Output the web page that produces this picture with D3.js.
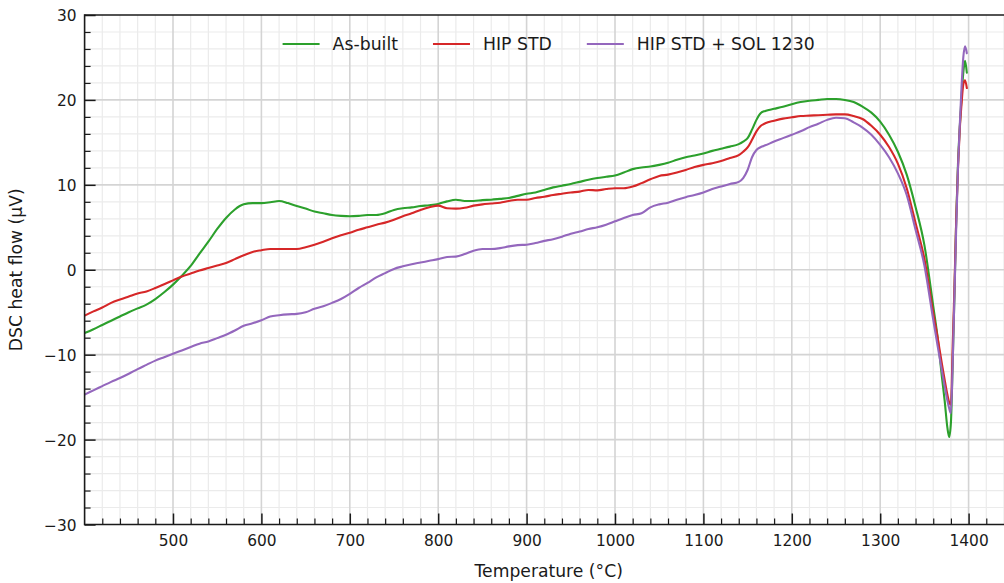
<!DOCTYPE html>
<html>
<head>
<meta charset="utf-8">
<script src="https://cdn.jsdelivr.net/npm/d3@7/dist/d3.min.js"></script>
<style>
  html, body { margin: 0; padding: 0; background: #fff; }
  svg { display: block; font-family: "DejaVu Sans", sans-serif; }
</style>
</head>
<body>
<svg id="chart" width="1004" height="583"></svg>
<script>
// DSC traces: temperature (°C) against heat flow (µV)
const temps = [
  400, 410, 420, 430, 440, 450, 460, 470, 480, 490,
  500, 510, 520, 530, 540, 550, 560, 570, 580, 590,
  600, 610, 620, 630, 640, 650, 660, 670, 680, 690,
  700, 710, 720, 730, 740, 750, 760, 770, 780, 790,
  800, 810, 820, 830, 840, 850, 860, 870, 880, 890,
  900, 910, 920, 930, 940, 950, 960, 970, 980, 990,
  1000, 1010, 1020, 1030, 1040, 1050, 1060, 1070, 1080, 1090,
  1100, 1110, 1120, 1130, 1140, 1145, 1150, 1155, 1160, 1165,
  1170, 1180, 1190, 1200, 1210, 1220, 1230, 1240, 1250, 1260,
  1270, 1280, 1290, 1300, 1310, 1320, 1330, 1340, 1350, 1360,
  1365, 1370, 1373, 1376, 1378, 1380, 1382, 1384, 1386, 1388,
  1390, 1392, 1394, 1396, 1398
];

const asBuilt = [
  -7.45, -7.0, -6.5, -6.0, -5.5, -5.0, -4.55, -4.1, -3.45, -2.65,
  -1.75, -0.7, 0.45, 1.9, 3.3, 4.8, 6.1, 7.1, 7.7, 7.85,
  7.85, 7.95, 8.1, 7.85, 7.5, 7.2, 6.85, 6.65, 6.45, 6.35,
  6.3, 6.35, 6.45, 6.45, 6.65, 7.05, 7.25, 7.35, 7.5, 7.6,
  7.75, 8.05, 8.25, 8.1, 8.1, 8.2, 8.25, 8.35, 8.45, 8.7,
  8.95, 9.1, 9.4, 9.7, 9.9, 10.1, 10.35, 10.6, 10.8, 10.95,
  11.1, 11.45, 11.85, 12.05, 12.15, 12.35, 12.6, 12.95, 13.25, 13.45,
  13.7, 14.0, 14.25, 14.5, 14.8, 15.1, 15.5, 16.5, 17.65, 18.45,
  18.7, 18.95, 19.2, 19.5, 19.75, 19.9, 20.0, 20.1, 20.1, 20.0,
  19.75, 19.2, 18.5, 17.45, 15.9, 13.9, 11.2, 7.4, 2.9, -4.3,
  -8.0, -12.8, -15.5, -18.6, -19.7, -18.0, -11.0, -3.0, 6.0, 12.5,
  16.8, 20.3, 23.2, 24.6, 23.2
];

const hipStd = [
  -5.4, -4.9, -4.45, -3.9, -3.5, -3.15, -2.8, -2.55, -2.15, -1.7,
  -1.25, -0.8, -0.45, -0.1, 0.2, 0.5, 0.8, 1.25, 1.7, 2.1,
  2.3, 2.45, 2.45, 2.45, 2.45, 2.65, 2.95, 3.3, 3.7, 4.05,
  4.35, 4.7, 5.0, 5.3, 5.55, 5.9, 6.3, 6.65, 7.05, 7.35,
  7.55, 7.25, 7.2, 7.3, 7.55, 7.7, 7.8, 7.9, 8.1, 8.25,
  8.25, 8.45, 8.6, 8.8, 8.95, 9.1, 9.2, 9.4, 9.35, 9.5,
  9.6, 9.6, 9.8, 10.2, 10.65, 11.05, 11.2, 11.45, 11.75, 12.1,
  12.35, 12.55, 12.8, 13.15, 13.5, 13.9, 14.4, 15.3, 16.3, 16.95,
  17.25, 17.55, 17.8, 17.95, 18.1, 18.15, 18.2, 18.25, 18.3, 18.3,
  18.1, 17.75, 16.95, 15.9, 14.45, 12.5, 9.6, 5.5, 1.3, -5.1,
  -8.0, -11.2, -13.0, -14.7, -15.6, -15.9, -9.0, -2.0, 6.0, 12.0,
  16.5, 19.5, 21.8, 22.3, 21.4
];

const hipStdSol = [
  -14.7, -14.2, -13.7, -13.2, -12.75, -12.25, -11.7, -11.2, -10.7, -10.3,
  -9.9, -9.5, -9.1, -8.7, -8.45, -8.05, -7.65, -7.15, -6.6, -6.3,
  -5.95, -5.5, -5.35, -5.25, -5.2, -5.0, -4.6, -4.3, -3.9, -3.45,
  -2.85, -2.15, -1.55, -0.9, -0.4, 0.1, 0.4, 0.65, 0.85, 1.05,
  1.25, 1.5, 1.55, 1.85, 2.25, 2.45, 2.45, 2.55, 2.75, 2.9,
  2.95, 3.15, 3.4, 3.6, 3.9, 4.25, 4.5, 4.8, 5.0, 5.3,
  5.7, 6.1, 6.45, 6.65, 7.35, 7.7, 7.9, 8.25, 8.55, 8.8,
  9.1, 9.5, 9.8, 10.1, 10.35, 10.8, 11.75, 13.25, 14.1, 14.45,
  14.65, 15.1, 15.5, 15.9, 16.3, 16.8, 17.2, 17.65, 17.9, 17.85,
  17.35, 16.75, 15.9, 14.7, 13.25, 11.35, 8.8, 4.7, 0.5, -5.9,
  -9.0, -12.0, -13.8, -15.4, -16.3, -16.9, -11.0, -3.0, 5.0, 12.0,
  17.0, 21.5, 25.0, 26.3, 25.5
];

const seriesNames = ["As-built", "HIP STD", "HIP STD + SOL 1230"];
const seriesValues = [asBuilt, hipStd, hipStdSol];
const seriesColors = ["#2ca02c", "#d62728", "#9467bd"];

const xTicks = [500, 600, 700, 800, 900, 1000, 1100, 1200, 1300, 1400];
const yTicks = [-30, -20, -10, 0, 10, 20, 30];

const xLabel = "Temperature (°C)";
const yLabel = "DSC heat flow (μV)";

// ---- layout ----
const W = 1004, H = 583;
const plotL = 84.6, plotR = 1012.8, plotT = 15, plotB = 524.5;

const x = d3.scaleLinear().domain([400, 1450]).range([plotL, plotR]);
const y = d3.scaleLinear().domain([-30, 30]).range([plotB, plotT]);

const svg = d3.select("#chart");

svg.append("defs").append("clipPath").attr("id", "plot-clip")
  .append("rect")
  .attr("x", plotL).attr("y", plotT)
  .attr("width", plotR - plotL).attr("height", plotB - plotT);

// ---- grid ----
const xMinor = d3.range(420, 1450, 20).filter(v => v % 100 !== 0);
const yMinor = d3.range(-28, 30, 2).filter(v => v % 10 !== 0);
const grid = svg.append("g").attr("clip-path", "url(#plot-clip)");

grid.selectAll("line.xminor").data(xMinor).join("line")
  .attr("x1", d => x(d)).attr("x2", d => x(d))
  .attr("y1", plotT).attr("y2", plotB)
  .attr("stroke", "#ebebeb").attr("stroke-width", 1.2);
grid.selectAll("line.yminor").data(yMinor).join("line")
  .attr("x1", plotL).attr("x2", plotR)
  .attr("y1", d => y(d)).attr("y2", d => y(d))
  .attr("stroke", "#ebebeb").attr("stroke-width", 1.2);
grid.selectAll("line.xmajor").data(xTicks).join("line")
  .attr("x1", d => x(d)).attr("x2", d => x(d))
  .attr("y1", plotT).attr("y2", plotB)
  .attr("stroke", "#d4d4d4").attr("stroke-width", 1.6);
grid.selectAll("line.ymajor").data(yTicks.filter(v => v > -30 && v < 30)).join("line")
  .attr("x1", plotL).attr("x2", plotR)
  .attr("y1", d => y(d)).attr("y2", d => y(d))
  .attr("stroke", "#d4d4d4").attr("stroke-width", 1.6);

// ---- curves ----
const line = d3.line()
  .x((d, i) => x(temps[i]))
  .y(d => y(d))
  .curve(d3.curveMonotoneX);

const curves = svg.append("g").attr("clip-path", "url(#plot-clip)");
seriesValues.forEach((vals, k) => {
  curves.append("path")
    .datum(vals)
    .attr("d", line)
    .attr("fill", "none")
    .attr("stroke", seriesColors[k])
    .attr("stroke-width", 2.1)
    .attr("stroke-linejoin", "round")
    .attr("stroke-linecap", "round");
});

// ---- axes ----
const tickFont = "15.4px";
const fmtInt = d3.format("d");

const gx = svg.append("g").attr("transform", `translate(0,${plotB})`)
  .call(d3.axisBottom(x).tickValues(xTicks).tickFormat(fmtInt)
    .tickSizeInner(-11).tickSizeOuter(0).tickPadding(0));
gx.select(".domain").remove();
gx.selectAll(".tick line").attr("stroke", "#1a1a1a").attr("stroke-width", 1.5);
gx.selectAll(".tick text")
  .attr("y", 21.5).attr("dy", null)
  .attr("font-size", tickFont).attr("font-family", "DejaVu Sans").attr("fill", "#1a1a1a");

const gxm = svg.append("g").attr("transform", `translate(0,${plotB})`)
  .call(d3.axisBottom(x).tickValues(xMinor.filter(v => v < 1440)).tickSizeInner(-6).tickSizeOuter(0).tickFormat(""));
gxm.select(".domain").remove();
gxm.selectAll(".tick line").attr("stroke", "#1a1a1a").attr("stroke-width", 1.2);

const gy = svg.append("g").attr("transform", `translate(${plotL},0)`)
  .call(d3.axisLeft(y).tickValues(yTicks).tickSizeInner(-11).tickSizeOuter(0).tickPadding(8));
gy.select(".domain").remove();
gy.selectAll(".tick line").attr("stroke", "#1a1a1a").attr("stroke-width", 1.5);
gy.selectAll(".tick text")
  .attr("x", -8).attr("dy", "0.36em")
  .attr("font-size", tickFont).attr("font-family", "DejaVu Sans").attr("fill", "#1a1a1a");

const gym = svg.append("g").attr("transform", `translate(${plotL},0)`)
  .call(d3.axisLeft(y).tickValues(yMinor).tickSizeInner(-6).tickSizeOuter(0).tickFormat(""));
gym.select(".domain").remove();
gym.selectAll(".tick line").attr("stroke", "#1a1a1a").attr("stroke-width", 1.2);

// spines: left, bottom, top
const spines = svg.append("g").attr("stroke", "#1a1a1a").attr("stroke-width", 1.6);
spines.append("line").attr("x1", plotL).attr("x2", plotL).attr("y1", plotT - 0.8).attr("y2", plotB + 0.8);
spines.append("line").attr("x1", plotL).attr("x2", plotR).attr("y1", plotB).attr("y2", plotB);
spines.append("line").attr("x1", plotL).attr("x2", plotR).attr("y1", plotT).attr("y2", plotT);

// ---- axis titles ----
svg.append("text")
  .attr("x", (plotL + plotR) / 2).attr("y", 577)
  .attr("text-anchor", "middle")
  .attr("font-size", "17.2px").attr("fill", "#1a1a1a")
  .text(xLabel);

svg.append("text")
  .attr("transform", `translate(22,${(plotT + plotB) / 2}) rotate(-90)`)
  .attr("text-anchor", "middle")
  .attr("font-size", "17.2px").attr("fill", "#1a1a1a")
  .text(yLabel);

// ---- legend (upper centre, no frame) ----
const legend = svg.append("g");
const handleLen = 37, handlePad = 13, colGap = 35, legendY = 44;
const items = seriesNames.map((name, k) => {
  const g = legend.append("g");
  g.append("line")
    .attr("x1", 0).attr("x2", handleLen)
    .attr("y1", legendY).attr("y2", legendY)
    .attr("stroke", seriesColors[k]).attr("stroke-width", 2.1);
  const t = g.append("text")
    .attr("x", handleLen + handlePad).attr("y", legendY).attr("dy", "0.36em")
    .attr("font-size", "17.3px").attr("fill", "#1a1a1a")
    .text(name);
  return { g, w: handleLen + handlePad + t.node().getComputedTextLength() };
});
const total = d3.sum(items, d => d.w) + colGap * (items.length - 1);
let cx = (plotL + plotR) / 2 - total / 2;
items.forEach(it => {
  it.g.attr("transform", `translate(${cx},0)`);
  cx += it.w + colGap;
});
</script>
</body>
</html>
